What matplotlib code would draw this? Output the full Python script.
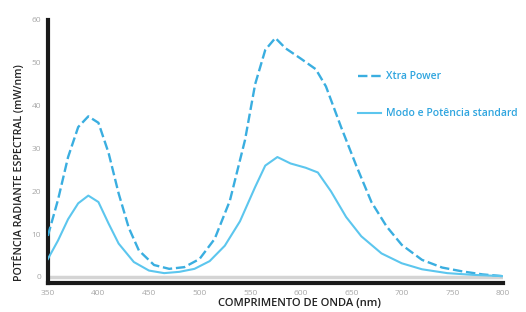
import numpy as np
import matplotlib.pyplot as plt

# Data
xtra_nm = [350, 360, 370, 380, 390, 400, 410, 420, 430, 440, 455, 470, 485, 500,
           515, 530, 545, 555, 565, 575, 585, 600, 615, 625, 640, 655, 670, 685,
           700, 720, 740, 760, 780, 800]
xtra_val = [9.6, 18, 28, 35, 37.5, 36, 29, 19.5, 11.5, 6.2, 2.8, 1.9, 2.3, 4.2,
            8.9, 17.8, 32, 45, 53, 55.8, 53.4, 51, 48.5, 44.5, 35, 26, 17.5, 11.8,
            7.5, 4, 2.2, 1.3, 0.6, 0.2]

std_nm = [350, 360, 370, 380, 390, 400, 410, 420, 435, 450, 465, 480, 495, 510,
          525, 540, 555, 565, 577, 590, 605, 617, 630, 645, 660, 680, 700, 720,
          745, 770, 800]
std_val = [4.2, 8.5, 13.5, 17.2, 19, 17.5, 12.5, 7.8, 3.5, 1.5, 0.9, 1.2, 1.9, 3.7,
           7.3, 13, 21, 26, 28, 26.5, 25.5, 24.4, 20, 14, 9.5, 5.5, 3.2, 1.8,
           0.9, 0.5, 0.2]

x_ticks = [350, 400, 450, 500, 550, 600, 650, 700, 750, 800]
y_ticks = [0, 10, 20, 30, 40, 50, 60]

labels = ['Xtra Power', 'Modo e Potência standard']

plt.rcParams['font.family'] = ['Open Sans', 'DejaVu Sans']

fig = plt.figure(figsize=(5.26, 3.12), dpi=100)
ax = fig.add_axes([0.091, 0.093, 0.865, 0.843])

ax.axhline(0, color='#d4d4d4', lw=2.5, zorder=1)
l1, = ax.plot(xtra_nm, xtra_val, color='#3aaee0', lw=1.7, ls=(0, (4, 1.6)), zorder=3)
l2, = ax.plot(std_nm, std_val, color='#5cc6ee', lw=1.5, zorder=3)

ax.set_xlim(350, 800)
ax.set_ylim(-1.4, 60)
ax.set_xticks(x_ticks)
ax.set_yticks(y_ticks)
ax.tick_params(length=0, labelsize=6, pad=5)
for lab in ax.get_xticklabels() + ax.get_yticklabels():
    lab.set_color('#a8a8a8')

for s in ['top', 'right']:
    ax.spines[s].set_visible(False)
for s in ['left', 'bottom']:
    ax.spines[s].set_linewidth(3)
    ax.spines[s].set_color('#1a1a1a')

ax.set_xlabel('COMPRIMENTO DE ONDA (nm)', fontsize=8, fontweight='semibold',
              color='#222222')
ax.xaxis.set_label_coords(0.554, -0.058)
ax.set_ylabel('POTÊNCIA RADIANTE ESPECTRAL (mW/nm)', fontsize=7.7,
              fontweight='semibold', color='#222222')
ax.yaxis.set_label_coords(-0.05, 0.42)

leg = ax.legend([l1, l2], labels, loc='upper left', bbox_to_anchor=(0.66, 0.84),
                frameon=False, fontsize=7.5, handlelength=2.3, labelspacing=2.5,
                handletextpad=0.4)
for t in leg.get_texts():
    t.set_color('#2fa5df')
    t.set_fontweight('semibold')

fig.savefig('out.png', dpi=100)
